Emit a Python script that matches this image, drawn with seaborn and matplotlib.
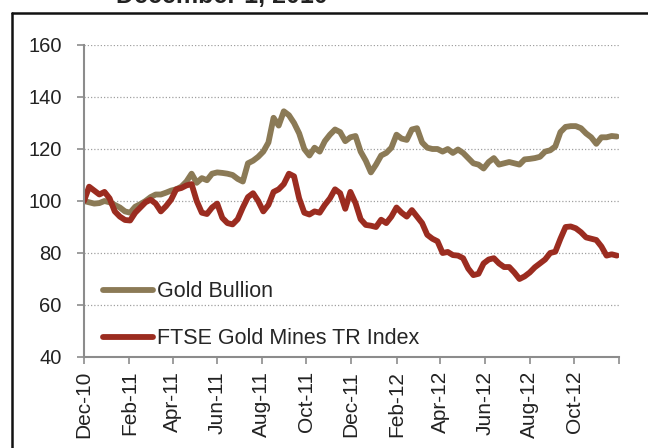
import pandas as pd
import numpy as np
import matplotlib.pyplot as plt
import seaborn as sns
from matplotlib.lines import Line2D

# weekly index values, rebased to 100 at start
gold_bullion = [
    100, 99.5, 99, 99.2, 100, 99.5, 98.5, 97.5, 96, 95.5,
    97.8, 98.8, 100, 101.5, 102.5, 102.5, 103.2, 104, 104.5, 105.5,
    107.5, 110.5, 107, 108.8, 108, 110.5, 111, 110.8, 110.5, 110,
    108.5, 107.5, 114.5, 115.5, 117, 119, 122.5, 132, 129, 134.5,
    133, 130, 126, 120, 117.5, 120.5, 119, 123, 125.5, 127.5,
    126.5, 123, 124.5, 125, 119, 115.5, 111, 114, 117.5, 118.5,
    120.5, 125.5, 124, 123.5, 127.5, 128, 122.5, 120.5, 120, 120,
    119, 120, 118.5, 119.8, 118.5, 116.5, 114.5, 114, 112.5, 115,
    116.5, 114, 114.5, 115, 114.5, 114, 116, 116.2, 116.5, 117,
    119, 119.5, 121, 126.5, 128.5, 128.8, 128.8, 128, 126, 124.5,
    122, 124.5, 124.5, 125, 124.8,
]
ftse_gold_mines = [
    100, 105.5, 104, 102.5, 103.5, 101, 96, 94, 92.7, 92.5,
    95.5, 97.5, 99.5, 100.5, 99, 96, 98, 100.5, 104.5, 105,
    106, 106.5, 100, 95.5, 95, 97.5, 99, 93.5, 91.5, 91,
    93, 97.5, 101.5, 103, 100, 96, 98.5, 103.5, 104.5, 106.5,
    110.5, 109.5, 101, 95.5, 94.8, 96, 95.5, 98.5, 101, 104.5,
    103, 97, 103.5, 99.2, 93, 90.8, 90.5, 90, 92.8, 91.5,
    94, 97.5, 95.5, 94, 96.5, 94, 91.5, 87, 85.5, 84.5,
    80, 80.4, 79.2, 79, 78, 74, 71.5, 72, 76, 77.5,
    78, 76, 74.6, 74.6, 72.5, 70, 71, 72.5, 74.5, 76,
    77.5, 80, 80.5, 85.5, 90, 90.2, 89.5, 88, 86, 85.5,
    85, 82.5, 79, 79.5, 79,
]
series_names = ["Gold Bullion", "FTSE Gold Mines TR Index"]
series_colors = ["#8B7A56", "#9B2C20"]
y_ticks = [40, 60, 80, 100, 120, 140, 160]

dates = pd.date_range("2010-12-01", periods=len(gold_bullion), freq="7D")
tick_months = pd.date_range("2010-12-01", "2012-12-01", freq="2MS")
tick_labels = [d.strftime("%b-%y") for d in tick_months[:-1]] + [""]

df = pd.DataFrame({
    "date": np.concatenate([dates, dates]),
    "value": gold_bullion + ftse_gold_mines,
    "series": [series_names[0]] * len(dates) + [series_names[1]] * len(dates),
})

sns.set_style("white")
plt.rcParams["font.family"] = ["Liberation Sans", "DejaVu Sans"]

fig = plt.figure(figsize=(6.48, 4.48), dpi=100)
ax = fig.add_axes([84 / 648, 1 - 357 / 448, 535 / 648, 312 / 448])

sns.lineplot(
    data=df,
    x="date",
    y="value",
    hue="series",
    palette=series_colors,
    linewidth=4.2,
    legend=False,
    ax=ax
)

ax.set_ylim(40, 160)
ax.set_yticks(y_ticks)
ax.set_xlim(tick_months[0], tick_months[-1])
ax.set_xticks(tick_months)
ax.set_xticklabels(tick_labels, rotation=90)
ax.set_xlabel("")
ax.set_ylabel("")

ax.grid(axis="y", color="#a0a0a0", linestyle=(0, (1, 1.6)), linewidth=0.9)
ax.grid(axis="x", visible=False)
ax.set_axisbelow(True)

for side in ["top", "right"]:
    ax.spines[side].set_visible(False)
for side in ["left", "bottom"]:
    ax.spines[side].set_color("#8c8c8c")
    ax.spines[side].set_linewidth(1.5)

ax.tick_params(axis="y", length=5, width=1.2, color="#8c8c8c",
               labelsize=14.5, labelcolor="#222222", pad=11, left=True)
ax.tick_params(axis="x", length=5, width=1.2, color="#8c8c8c",
               labelsize=15, labelcolor="#222222", pad=5, bottom=True)

handles = [Line2D([0], [0], color=c, linewidth=4.2, solid_capstyle="round")
           for c in series_colors]
ax.legend(
    handles,
    series_names,
    loc="lower left",
    bbox_to_anchor=(0.035, 0.025),
    frameon=False,
    fontsize=15.5,
    handlelength=2.35,
    handletextpad=0.18,
    labelspacing=1.2,
    borderaxespad=0,
    borderpad=0,
)

# frame of the surrounding box, cropped by the image edges
fig.add_artist(Line2D([12 / 648, 12 / 648], [0, 1 - 13 / 448],
                      transform=fig.transFigure, color="#111111", linewidth=1.8))
fig.add_artist(Line2D([12 / 648, 1], [1 - 13 / 448, 1 - 13 / 448],
                      transform=fig.transFigure, color="#111111", linewidth=1.8))

fig.text(116 / 648, 1 - 3 / 448, "December 1, 2010", fontsize=18,
         fontweight="bold", color="#222222", ha="left", va="baseline")

fig.savefig("out.png", dpi=100)
